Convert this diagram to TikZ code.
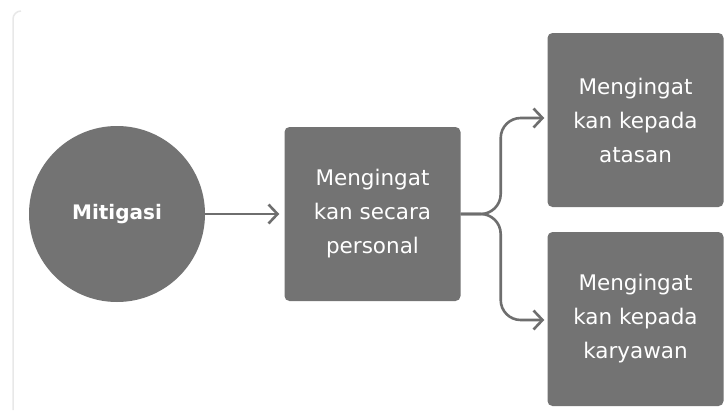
\documentclass[tikz,border=0pt]{standalone}
\usepackage{fontspec}
\setmainfont{DejaVu Sans}
\usetikzlibrary{arrows.meta}
\definecolor{boxgray}{HTML}{737373}
\definecolor{linegray}{HTML}{6E6E6E}
\definecolor{cardgray}{HTML}{E8E8E8}
\tikzset{
  box/.style={fill=boxgray, rounded corners=5pt, minimum width=176pt, minimum height=174pt,
    text=white, align=center, inner sep=0pt,
    font=\fontsize{21.5}{34}\selectfont},
  circ/.style={fill=boxgray, circle, minimum size=176pt, inner sep=0pt, text=white,
    font=\fontsize{20}{24}\selectfont\bfseries},
  conn/.style={draw=linegray, line width=2.6pt,
    -{Straight Barb[length=9pt,width=19pt,line width=2.6pt]}}
}
\begin{document}
\begin{tikzpicture}[x=1pt,y=-1pt]
\useasboundingbox (0,0) rectangle (728,410);
\fill[white] (0,0) rectangle (728,410);
\draw[cardgray, line width=1.5pt, rounded corners=8pt] (13,410) -- (13,11) -- (21,11);
\node[circ] (mit) at (117,214) {Mitigasi};
\node[box] (mid) at (372.5,214) {Mengingat\\kan secara\\personal};
\node[box] (top) at (635.5,120) {Mengingat\\kan kepada\\atasan};
\node[box] (bot) at (635.5,319) {Mengingat\\kan kepada\\karyawan};
\draw[conn, shorten >=5pt] (mit.east) -- (mid.west);
\draw[conn, rounded corners=20pt, shorten >=3pt] (mid.east) -- ++(40,0) |- ([yshift=2pt]top.west);
\draw[conn, rounded corners=20pt, shorten >=3pt] (mid.east) -- ++(40,0) |- ([yshift=-1pt]bot.west);
\end{tikzpicture}
\end{document}
